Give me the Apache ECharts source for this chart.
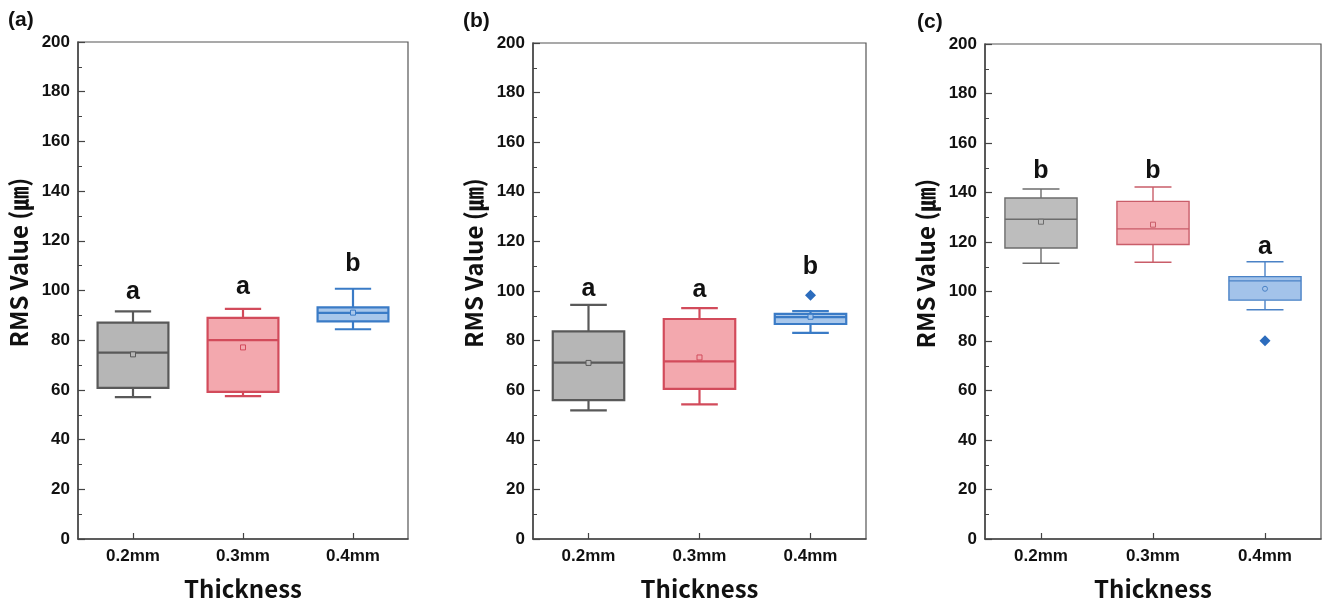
<!DOCTYPE html>
<html>
<head>
<meta charset="utf-8">
<title>RMS Value by Thickness</title>
<script src="https://cdn.jsdelivr.net/npm/echarts@6/dist/echarts.min.js"></script>
<style>
html, body { margin: 0; padding: 0; background: #fff; }
#divRmsChart { width: 1327px; height: 606px; }
</style>
</head>
<body>
<div id="divRmsChart"></div>
<script>
// ---- data ----
var categories = ['0.2mm', '0.3mm', '0.4mm'];
var yMin = 0, yMax = 200, yStep = 20;
var panelLabels = ['(a)', '(b)', '(c)'];

// each row: [min, Q1, median, Q3, max]
var boxA = [[57.1, 60.8, 75.0, 87.1, 91.6], [57.5, 59.2, 80.0, 89.0, 92.6], [84.4, 87.6, 91.0, 93.2, 100.7]];
var meanA = [74.3, 77.1, 91.1];
var outlierA = [];
var letterA = ['a', 'a', 'b'];
var letterPosA = [99.3, 101.3, 110.7];

var boxB = [[51.9, 56.0, 71.1, 83.7, 94.4], [54.3, 60.5, 71.6, 88.7, 93.1], [83.1, 86.7, 89.5, 90.8, 91.9]];
var meanB = [71.0, 73.2, 89.6];
var outlierB = [['0.4mm', 98.3]];
var letterB = ['a', 'a', 'b'];
var letterPosB = [100.8, 100.2, 109.8];

var boxC = [[111.4, 117.6, 129.2, 137.8, 141.4], [111.8, 119.0, 125.3, 136.4, 142.2], [92.6, 96.5, 104.3, 106.0, 112.0]];
var meanC = [128.2, 127.0, 101.1];
var outlierC = [['0.4mm', 80.1]];
var letterC = ['b', 'b', 'a'];
var letterPosC = [148.8, 148.6, 118.0];

// ---- styles ----
var boxFill = ['#b6b6b6', '#f3a8ae', '#a8c7eb'];
var boxLine = ['#595959', '#d24b5b', '#3a7bc6'];
var boxFillC = ['#bdbdbd', '#f5b1b6', '#a3c3ea'];
var boxLineC = ['#6c6c6c', '#c95d69', '#4a82c6'];
var titleFont = '"Noto Sans CJK KR", "Liberation Sans", sans-serif';
var tickFont = '"Liberation Sans", Arial, sans-serif';
var ink = '#111';
var axisColor = '#444';

var grids = [
    { left: 78, top: 42, width: 330, height: 500 },
    { left: 533, top: 43, width: 333, height: 500 },
    { left: 985, top: 44, width: 336, height: 496 }
];
var labelPos = [[8, 10], [463, 11], [917, 12]];

var panels = [
    { box: boxA, mean: meanA, outlier: outlierA, letter: letterA, letterPos: letterPosA, fill: boxFill, line: boxLine, lw: 2.2, meanSym: ['rect', 'rect', 'rect'] },
    { box: boxB, mean: meanB, outlier: outlierB, letter: letterB, letterPos: letterPosB, fill: boxFill, line: boxLine, lw: 2.2, meanSym: ['rect', 'rect', 'rect'] },
    { box: boxC, mean: meanC, outlier: outlierC, letter: letterC, letterPos: letterPosC, fill: boxFillC, line: boxLineC, lw: 1.4, meanSym: ['rect', 'rect', 'circle'] }
];

function makeBoxRender(p) {
    return function (params, api) {
        var i = api.value(0);
        var lo = api.coord([i, api.value(1)]);
        var q1 = api.coord([i, api.value(2)]);
        var md = api.coord([i, api.value(3)]);
        var q3 = api.coord([i, api.value(4)]);
        var hi = api.coord([i, api.value(5)]);
        var band = api.size([1, 0])[0];
        var half = band * 0.322;
        var cap = band * 0.165;
        var cx = md[0];
        var st = { stroke: p.line[i], lineWidth: p.lw, fill: null };
        return {
            type: 'group',
            children: [
                { type: 'line', shape: { x1: cx, y1: hi[1], x2: cx, y2: q3[1] }, style: st },
                { type: 'line', shape: { x1: cx, y1: q1[1], x2: cx, y2: lo[1] }, style: st },
                { type: 'line', shape: { x1: cx - cap, y1: hi[1], x2: cx + cap, y2: hi[1] }, style: st },
                { type: 'line', shape: { x1: cx - cap, y1: lo[1], x2: cx + cap, y2: lo[1] }, style: st },
                { type: 'rect', shape: { x: cx - half, y: q3[1], width: half * 2, height: q1[1] - q3[1] },
                  style: { fill: p.fill[i], stroke: p.line[i], lineWidth: p.lw } },
                { type: 'line', shape: { x1: cx - half, y1: md[1], x2: cx + half, y2: md[1] }, style: st }
            ]
        };
    };
}

var option = {
    animation: false,
    backgroundColor: '#fff',
    title: [],
    grid: [],
    xAxis: [],
    yAxis: [],
    series: []
};

for (var k = 0; k < panels.length; k++) {
    var p = panels[k];
    var g = grids[k];
    option.title.push({
        text: panelLabels[k], left: labelPos[k][0], top: labelPos[k][1], padding: 0,
        textStyle: { fontFamily: tickFont, fontSize: 21, fontWeight: 'bold', color: ink }
    });
    option.grid.push({
        left: g.left, top: g.top, width: g.width, height: g.height,
        show: true, borderColor: '#555', borderWidth: 1.2, backgroundColor: 'transparent'
    });
    option.xAxis.push({
        type: 'category', gridIndex: k, data: categories,
        name: 'Thickness', nameLocation: 'middle', nameGap: 38,
        nameTextStyle: { fontFamily: titleFont, fontSize: 24, fontWeight: 'bold', color: ink },
        axisLine: { show: true, lineStyle: { color: axisColor, width: 1.5 } },
        axisTick: { show: true, inside: true, alignWithLabel: true, length: 6, lineStyle: { color: axisColor, width: 1.2 } },
        axisLabel: { fontFamily: tickFont, fontSize: 17, fontWeight: 'bold', color: ink, margin: 9 },
        splitLine: { show: false }
    });
    option.yAxis.push({
        type: 'value', gridIndex: k, min: yMin, max: yMax, interval: yStep,
        name: 'RMS Value (㎛)', nameLocation: 'middle', nameGap: 47,
        nameTextStyle: { fontFamily: titleFont, fontSize: 24, fontWeight: 'bold', color: ink, padding: [0, 0, 0, 56] },
        axisLine: { show: true, lineStyle: { color: axisColor, width: 1.5 } },
        axisTick: { show: true, inside: true, length: 7, lineStyle: { color: axisColor, width: 1.2 } },
        minorTick: { show: true, splitNumber: 2, length: 4, lineStyle: { color: axisColor, width: 1 } },
        axisLabel: { fontFamily: tickFont, fontSize: 17, fontWeight: 'bold', color: ink, margin: 8 },
        splitLine: { show: false }
    });

    var boxData = [];
    var meanData = [];
    var letterData = [];
    for (var i = 0; i < categories.length; i++) {
        boxData.push([i].concat(p.box[i]));
        meanData.push({
            value: [i, p.mean[i]], symbol: p.meanSym[i],
            itemStyle: { color: p.fill[i], borderColor: p.line[i], borderWidth: 1, opacity: 1 }
        });
        letterData.push([i, p.letterPos[i]]);
    }

    option.series.push({
        type: 'custom', xAxisIndex: k, yAxisIndex: k,
        renderItem: makeBoxRender(p),
        encode: { x: 0, y: [1, 2, 3, 4, 5] },
        data: boxData, z: 2
    });
    option.series.push({
        type: 'scatter', xAxisIndex: k, yAxisIndex: k,
        symbolSize: 5, data: meanData, z: 3
    });
    option.series.push({
        type: 'scatter', xAxisIndex: k, yAxisIndex: k,
        symbol: 'diamond', symbolSize: 11,
        itemStyle: { color: '#2c6cbd', opacity: 1 },
        data: p.outlier, z: 3
    });
    option.series.push({
        type: 'scatter', xAxisIndex: k, yAxisIndex: k,
        symbolSize: 1, itemStyle: { color: 'rgba(0,0,0,0)', opacity: 1 },
        label: {
            show: true, position: 'inside',
            fontFamily: tickFont, fontSize: 25, fontWeight: 'bold', color: ink, opacity: 1,
            formatter: (function (letters) {
                return function (q) { return letters[q.dataIndex]; };
            })(p.letter)
        },
        data: letterData, z: 4
    });
}

var myChart = echarts.init(document.getElementById('divRmsChart'));
myChart.setOption(option);
</script>
</body>
</html>
